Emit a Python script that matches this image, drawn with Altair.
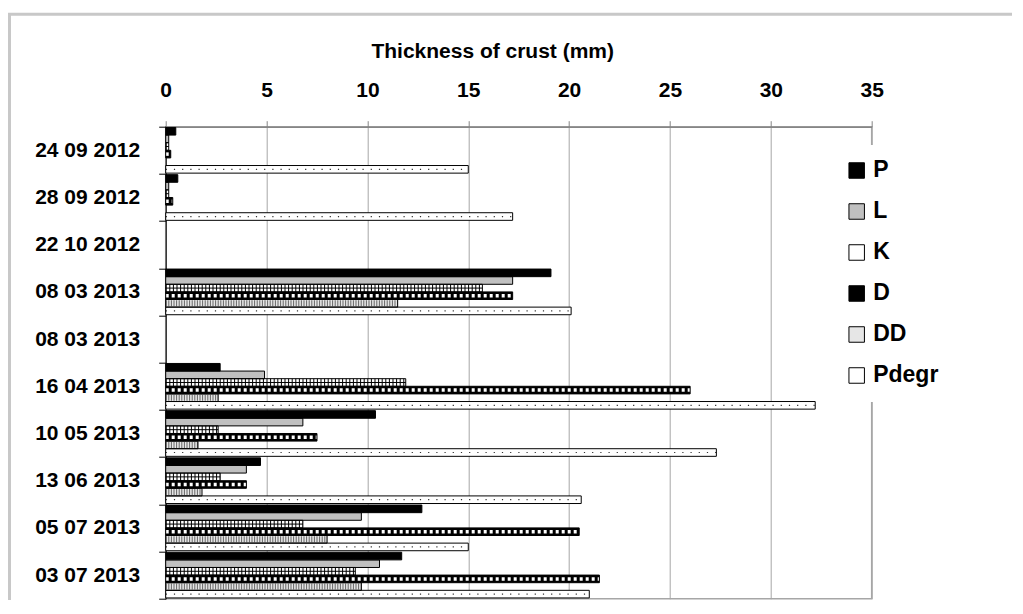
import altair as alt
import pandas as pd

# ---- data ----
dates = ["24 09 2012", "28 09 2012", "22 10 2012", "08 03 2013", "08 03 2013",
         "16 04 2013", "10 05 2013", "13 06 2013", "05 07 2013", "03 07 2013"]
series_names = ["P", "L", "K", "D", "DD", "Pdegr"]
P = [0.5, 0.6, 0, 19.1, 0, 2.7, 10.4, 4.7, 12.7, 11.7]
L = [0.15, 0.15, 0, 17.2, 0, 4.9, 6.8, 4.0, 9.7, 10.6]
K = [0.15, 0.15, 0, 15.7, 0, 11.9, 2.6, 2.7, 6.8, 9.4]
D = [0.25, 0.35, 0, 17.2, 0, 26.0, 7.5, 4.0, 20.5, 21.5]
DD = [0, 0, 0, 11.5, 0, 2.6, 1.6, 1.8, 8.0, 9.7]
Pdegr = [15.0, 17.2, 0, 20.1, 0, 32.2, 27.3, 20.6, 15.0, 21.0]
x_ticks = [0, 5, 10, 15, 20, 25, 30, 35]
x_title = "Thickness of crust (mm)"

fills = ["#000000", "#c0c0c0", "#ffffff", "#000000", "#e6e6e6", "#ffffff"]

keys = [f"{i:02d}|{d}" for i, d in enumerate(dates)]
rows = []
for name, vals in zip(series_names, [P, L, K, D, DD, Pdegr]):
    for k, v in zip(keys, vals):
        rows.append({"key": k, "series": name, "value": v, "zero": 0})
df = pd.DataFrame(rows)

FONT = "Liberation Sans"
W, H = 706, 472

y_enc = alt.Y(
    "key:N",
    scale=alt.Scale(domain=keys, paddingInner=0, paddingOuter=0),
    axis=alt.Axis(
        title=None, labelExpr="split(datum.value, '|')[1]", tickBand="extent",
        tickSize=7, tickColor="black", domainColor="black", domainWidth=1,
        labelFont=FONT, labelFontSize=21, labelFontWeight="bold", labelColor="black",
        labelPadding=19, grid=False, labelAlign="right", labelBaseline="middle",
    ),
)
yoff_enc = alt.YOffset(
    "series:N", scale=alt.Scale(domain=series_names, paddingInner=0, paddingOuter=0.1)
)
x_axis = alt.Axis(
    orient="top", values=x_ticks, title=x_title,
    labelFont=FONT, labelFontSize=21, labelFontWeight="bold", labelColor="black",
    labelBaseline="alphabetic", labelPadding=24, labelFlush=False,
    tickSize=6, tickColor="#868686", domainColor="#868686", domainWidth=1.5,
    grid=True, gridColor="#a6a6a6", gridWidth=1,
    titleFont=FONT, titleFontSize=21, titleFontWeight="bold", titleColor="black",
    titleX=326.5, titleY=-68.7, titleBaseline="alphabetic", titleAlign="center",
    titleAnchor="start",
)
x_scale = alt.Scale(domain=[0, 35], nice=False)

base = alt.Chart(df).transform_filter("datum.value > 0")

frame = alt.Chart(alt.Data(values=[{"f": 1}])).mark_rect(
    fill="transparent", stroke="#c8c8c8", strokeWidth=3
).encode(
    x=alt.value(-156.2), x2=alt.value(W + 300),
    y=alt.value(-112.5), y2=alt.value(H + 100),
)

bar_fill = base.mark_bar(strokeWidth=0).encode(
    y=y_enc, yOffset=yoff_enc,
    x=alt.X("value:Q", scale=x_scale, axis=x_axis),
    color=alt.Color(
        "series:N",
        scale=alt.Scale(domain=series_names, range=fills),
        legend=alt.Legend(
            title=None, orient="none", legendX=665.5, legendY=18.3,
            fillColor="white", padding=14,
            labelFont=FONT, labelFontSize=23, labelFontWeight="bold", labelColor="black",
            symbolType="square", symbolSize=240, symbolStrokeColor="black",
            symbolStrokeWidth=1, symbolOpacity=1, rowPadding=17, labelOffset=5,
        ),
    ),
)


def pattern(series, color, width, dash=None):
    kw = dict(color=color, strokeWidth=width, strokeCap="butt")
    if dash is not None:
        kw["strokeDash"] = dash
    return base.transform_filter(f"datum.series == '{series}'").mark_rule(**kw).encode(
        y=y_enc, yOffset=yoff_enc,
        x=alt.X("zero:Q", scale=x_scale, axis=x_axis),
        x2=alt.X2("value"),
    )


k_vert = pattern("K", "black", 7.6, [1, 2.6])
k_mid = pattern("K", "black", 1)
d_sq = pattern("D", "white", 3.5, [3, 3])
dd_str = pattern("DD", "#666666", 6, [1, 1.6])
pd_dots = pattern("Pdegr", "#333333", 1.2, [1.2, 7])

bar_line = base.mark_bar(fillOpacity=0, stroke="black", strokeWidth=1).encode(
    y=y_enc, yOffset=yoff_enc,
    x=alt.X("value:Q", scale=x_scale, axis=x_axis),
)

chart = alt.layer(
    frame, bar_fill, k_vert, k_mid, d_sq, dd_str, pd_dots, bar_line
).properties(
    width=W, height=H,
    autosize=alt.AutoSizeParams(type="none"),
    padding={"left": 157.7, "top": 118.7, "right": 140, "bottom": 1.5},
    background="white",
).configure_view(stroke="#a6a6a6", strokeWidth=1.5)

chart.save("out.html", embed_options={"renderer": "svg", "actions": False})
